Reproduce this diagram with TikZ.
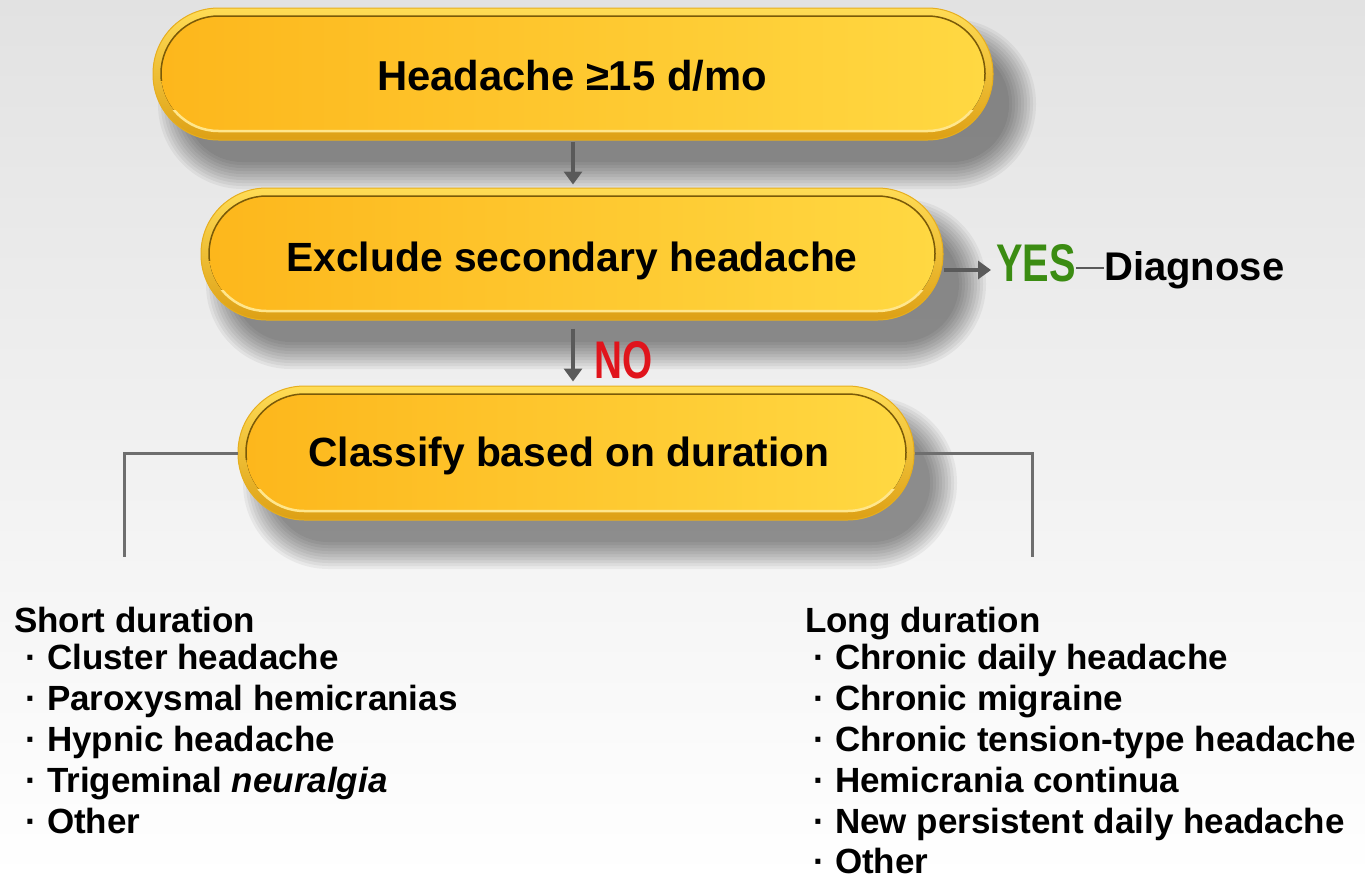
\documentclass[tikz,border=0pt]{standalone}
\usepackage{fontspec}
\setmainfont{Liberation Sans}
\usetikzlibrary{arrows.meta,calc}
\definecolor{bgtop}{HTML}{E2E2E2}
\definecolor{pillL}{HTML}{FDB71C}
\definecolor{pillR}{HTML}{FFD842}
\definecolor{outerT}{HTML}{FFDC55}
\definecolor{outerB}{HTML}{DDA015}
\definecolor{rimdark}{HTML}{7A5A08}
\definecolor{rimlight}{HTML}{FFE68C}
\definecolor{rimedge}{HTML}{E6AE1E}
\definecolor{arrgray}{HTML}{5A5A5A}
\definecolor{conngray}{HTML}{6E6E6E}
\definecolor{yesgreen}{HTML}{3B8C12}
\definecolor{nored}{HTML}{E0141C}
\tikzset{
  pillouter/.style={rectangle, draw=rimedge, line width=1pt, top color=outerT, bottom color=outerB, inner sep=0pt},
  pillinner/.style={left color=pillL, right color=pillR},
  pilltext/.style={anchor=base, inner sep=0pt, font=\bfseries\fontsize{40.8}{40.8}\selectfont},
  arr/.style={draw=arrgray, line width=4pt, -{Triangle[width=18pt,length=13pt]}},
  conn/.style={draw=conngray, line width=3pt},
  listhead/.style={anchor=base west, inner sep=0pt, font=\bfseries\fontsize{35}{35}\selectfont},
  listitem/.style={anchor=base west, inner sep=0pt, font=\bfseries\fontsize{35}{35}\selectfont},
  bigword/.style={anchor=base west, inner sep=0pt, font=\bfseries\fontsize{53}{53}\selectfont},
}
\newcommand\mypill[5]{%
  \pgfmathsetmacro\hw{#4/2}%
  \pgfmathsetmacro\hh{#5/2}%
  \pgfmathsetmacro\rp{\hh-0.5}%
  \pgfmathsetmacro\ri{\hh-8.5}%
  \foreach \s in {-8,-5,...,19}{%
    \pgfmathsetmacro\rr{\hh+\s-0.5}%
    \fill[black,opacity=0.05,rounded corners=\rr pt] ({#2-\hw+24-\s},{#3-\hh+30-\s}) rectangle ({#2+\hw+24+\s},{#3+\hh+30+\s});
  }%
  \node[pillouter, rounded corners=\rp pt, minimum width=#4pt, minimum height=#5pt] (#1) at (#2,#3) {};
  \fill[pillinner, rounded corners=\ri pt] ({#2-\hw+8},{#3-\hh+8}) rectangle ({#2+\hw-8},{#3+\hh-9});
  \begin{scope}
    \clip ({#2-\hw-2},{#3-\hh-2}) rectangle ({#2+\hw+2},{#3+0.1*\hh});
    \draw[rimdark, line width=1.5pt, rounded corners=\ri pt] ({#2-\hw+8},{#3-\hh+8}) rectangle ({#2+\hw-8},{#3+\hh-9});
  \end{scope}
  \begin{scope}
    \clip ({#2-\hw-2},{#3+0.55*\hh}) rectangle ({#2+\hw+2},{#3+\hh+2});
    \draw[rimlight, line width=2.5pt, rounded corners=\ri pt] ({#2-\hw+8},{#3-\hh+8}) rectangle ({#2+\hw-8},{#3+\hh-9});
  \end{scope}
}
\begin{document}
\begin{tikzpicture}[x=1pt,y=-1pt]
  \useasboundingbox (0,0) rectangle (1365,879);
  \shade[top color=bgtop, bottom color=white] (0,0) rectangle (1365,879);

  % boxes
  \mypill{box1}{573}{74}{840}{132}
  \node[pilltext, font=\bfseries\fontsize{41.8}{41.8}\selectfont] (t1) at (572,90) {Headache ≥15 d/mo};
  \mypill{box2}{572}{254}{742}{132}
  \node[pilltext] (t2) at (572,271.5) {Exclude secondary headache};
  \mypill{box3}{576}{453}{676}{134}
  \node[pilltext] (t3) at (569,466.5) {Classify based on duration};

  % arrows
  \draw[arr, shorten <=1pt, shorten >=3pt] (box1.south) -- (box1.south |- box2.north);
  \draw[arr, shorten <=8pt, shorten >=4pt] (box1.south |- box2.south) -- (box1.south |- box3.north);

  % YES / NO
  \node[bigword, text=yesgreen] (yes) at (996,281) {\scalebox{0.75}[1]{YES}};
  \node[anchor=base west, inner sep=0pt, font=\bfseries\fontsize{40}{40}\selectfont] (diag) at (1104,280) {Diagnose};
  \draw[arr, shorten >=5pt] (box2.east |- 0,270) -- (yes.west |- 0,270);
  \draw[draw=arrgray, line width=2pt] (yes.east |- 0,268) -- (diag.west |- 0,268);
  \node[bigword, text=nored] (no) at (594,378) {\scalebox{0.73}[1]{NO}};

  % connectors
  \coordinate (lend) at (124,557);
  \coordinate (rend) at (1032,557);
  \draw[conn] (box3.west) -| (lend);
  \draw[conn] (box3.east) -| (rend);

  % short list
  \node[listhead] (sh) at (14,632) {Short duration};
  \node[listitem] (s1) at (25.5,669) {· Cluster headache};
  \node[listitem] (s2) at (25.5,710.2) {· Paroxysmal hemicranias};
  \node[listitem] (s3) at (25.5,751.4) {· Hypnic headache};
  \node[listitem] (s4) at (25.5,792.6) {· Trigeminal \textit{neuralgia}};
  \node[listitem] (s5) at (25.5,833.8) {· Other};

  % long list
  \node[listhead] (lh) at (805,632) {Long duration};
  \node[listitem] (l1) at (813.5,669) {· Chronic daily headache};
  \node[listitem] (l2) at (813.5,710.2) {· Chronic migraine};
  \node[listitem] (l3) at (813.5,751.4) {· Chronic tension-type headache};
  \node[listitem] (l4) at (813.5,792.6) {· Hemicrania continua};
  \node[listitem] (l5) at (813.5,833.8) {· New persistent daily headache};
  \node[listitem] (l6) at (813.5,873) {· Other};
\end{tikzpicture}
\end{document}
